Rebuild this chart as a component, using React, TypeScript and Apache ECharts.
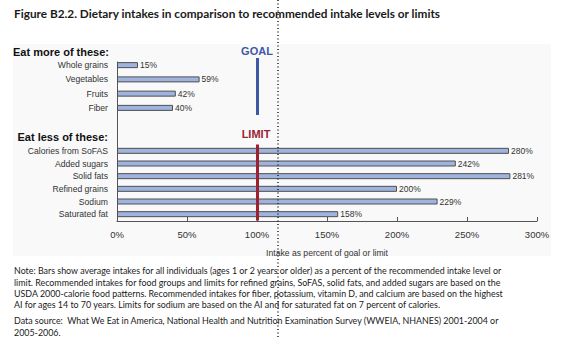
import React, { useEffect, useRef } from "react";
import * as echarts from "echarts";

const titleText = "Figure B2.2. Dietary intakes in comparison to recommended intake levels or limits";
const eatMoreCategories = ["Whole grains", "Vegetables", "Fruits", "Fiber"];
const eatMoreValues = [15, 59, 42, 40];
const eatLessCategories = ["Calories from SoFAS", "Added sugars", "Solid fats", "Refined grains", "Sodium", "Saturated fat"];
const eatLessValues = [280, 242, 281, 200, 229, 158];
const referenceLevel = 100;
const xMin = 0;
const xMax = 300;
const xInterval = 50;
const axisName = "Intake as percent of goal or limit";
const noteLines = [
  "Note: Bars show average intakes for all individuals (ages 1 or 2 years or older) as a percent of the recommended intake level or",
  "limit. Recommended intakes for food groups and limits for refined grains, SoFAS, solid fats, and added sugars are based on the",
  "USDA 2000-calorie food patterns. Recommended intakes for fiber, potassium, vitamin D, and calcium are based on the highest",
  "AI for ages 14 to 70 years. Limits for sodium are based on the AI and for saturated fat on 7 percent of calories.",
];
const sourceLines = [
  "Data source:  What We Eat in America, National Health and Nutrition Examination Survey (WWEIA, NHANES) 2001-2004 or",
  "2005-2006.",
];

const SANS = "Liberation Sans, Arial, sans-serif";
const HUM = "Lato, Open Sans, sans-serif";
const BAR_FILL = "#9fb3df";
const BAR_BORDER = "#4f4f4f";
const GOAL_COLOR = "#3d59a5";
const LIMIT_COLOR = "#9c2232";

export default function App() {
  const ref = useRef<HTMLDivElement>(null);
  useEffect(() => {
    if (!ref.current) return;
    const chart = echarts.init(ref.current, undefined, { renderer: "svg" });
    const left = 117;
    const right = 26;
    const hiddenX = (gridIndex: number) => ({
      type: "value" as const,
      gridIndex,
      min: xMin,
      max: xMax,
      interval: xInterval,
      show: false,
    });
    const catY = (gridIndex: number, data: string[]) => ({
      type: "category" as const,
      gridIndex,
      data,
      inverse: true,
      axisLine: { show: false },
      axisTick: { show: false },
      axisLabel: { fontSize: 8.6, color: "#333", fontFamily: SANS, margin: 9 },
    });
    const barSeries = (idx: number, data: number[], color: string) => ({
      type: "bar" as const,
      xAxisIndex: idx,
      yAxisIndex: idx,
      data,
      barWidth: 6,
      itemStyle: { color: BAR_FILL, borderColor: BAR_BORDER, borderWidth: 1 },
      label: {
        show: true,
        position: "right" as const,
        distance: 2,
        formatter: "{c}%",
        fontSize: 8.5,
        color: "#333",
        fontFamily: SANS,
      },
      markLine: {
        silent: true,
        symbol: "none",
        label: { show: false },
        lineStyle: { color, width: 3, type: "solid" as const },
        data: [{ xAxis: referenceLevel }],
        z: 10,
      },
    });
    chart.setOption({
      animation: false,
      backgroundColor: "#ffffff",
      grid: [
        { left, right, top: 62, bottom: 118 },
        { left, right, top: 58, height: 57 },
        { left, right, top: 144.5, height: 76 },
      ],
      xAxis: [
        {
          type: "value",
          gridIndex: 0,
          min: xMin,
          max: xMax,
          interval: xInterval,
          axisLine: { show: true, lineStyle: { color: "#555", width: 1 } },
          axisTick: { show: true, inside: true, length: 4, lineStyle: { color: "#555" } },
          splitLine: { show: false },
          axisLabel: {
            formatter: "{value}%",
            fontSize: 9.5,
            color: "#333",
            fontFamily: SANS,
            margin: 8,
          },
          name: axisName,
          nameLocation: "middle",
          nameGap: 27,
          nameTextStyle: { fontSize: 8.6, color: "#333", fontFamily: SANS },
        },
        hiddenX(1),
        hiddenX(2),
      ],
      yAxis: [
        {
          type: "value",
          gridIndex: 0,
          min: 0,
          max: 1,
          axisLine: { show: true, lineStyle: { color: "#555", width: 1 } },
          axisTick: { show: false },
          axisLabel: { show: false },
          splitLine: { show: false },
        },
        catY(1, eatMoreCategories),
        catY(2, eatLessCategories),
      ],
      series: [barSeries(1, eatMoreValues, GOAL_COLOR), barSeries(2, eatLessValues, LIMIT_COLOR)],
      graphic: [
        {
          type: "rect",
          z: -10,
          silent: true,
          shape: { x: 13, y: 44, width: 538, height: 212 },
          style: { fill: "#f9f9f9" },
        },
        {
          type: "text",
          x: 14,
          y: 13,
          style: {
            text: titleText,
            font: `bold 11.8px ${HUM}`,
            fill: "#1a1a1a",
            textVerticalAlign: "middle",
          },
        },
        {
          type: "text",
          x: 109,
          y: 52,
          style: {
            text: "Eat more of these:",
            font: `bold 11px ${SANS}`,
            fill: "#111",
            textAlign: "right",
            textVerticalAlign: "middle",
          },
        },
        {
          type: "text",
          x: 108,
          y: 137,
          style: {
            text: "Eat less of these:",
            font: `bold 11px ${SANS}`,
            fill: "#111",
            textAlign: "right",
            textVerticalAlign: "middle",
          },
        },
        {
          type: "text",
          x: 257,
          y: 51,
          style: {
            text: "GOAL",
            font: `bold 11px ${SANS}`,
            fill: GOAL_COLOR,
            textAlign: "center",
            textVerticalAlign: "middle",
          },
        },
        {
          type: "text",
          x: 256,
          y: 134,
          style: {
            text: "LIMIT",
            font: `bold 11px ${SANS}`,
            fill: LIMIT_COLOR,
            textAlign: "center",
            textVerticalAlign: "middle",
          },
        },
        {
          type: "text",
          x: 14,
          y: 265,
          style: {
            text: noteLines.join("\n"),
            font: `8.9px ${HUM}`,
            lineHeight: 11.4,
            fill: "#1a1a1a",
          },
        },
        {
          type: "text",
          x: 14,
          y: 315,
          style: {
            text: sourceLines.join("\n"),
            font: `8.9px ${HUM}`,
            lineHeight: 11.6,
            fill: "#1a1a1a",
          },
        },
        {
          type: "line",
          z: 100,
          silent: true,
          shape: { x1: 278, y1: 0, x2: 278, y2: 339 },
          style: { stroke: "#222", lineWidth: 1.5, lineDash: [1, 2.5] },
        },
      ],
    });
    return () => chart.dispose();
  }, []);
  return (
    <div
      ref={ref}
      style={{ position: "absolute", left: 0, top: 0, width: 563, height: 339 }}
    />
  );
}
